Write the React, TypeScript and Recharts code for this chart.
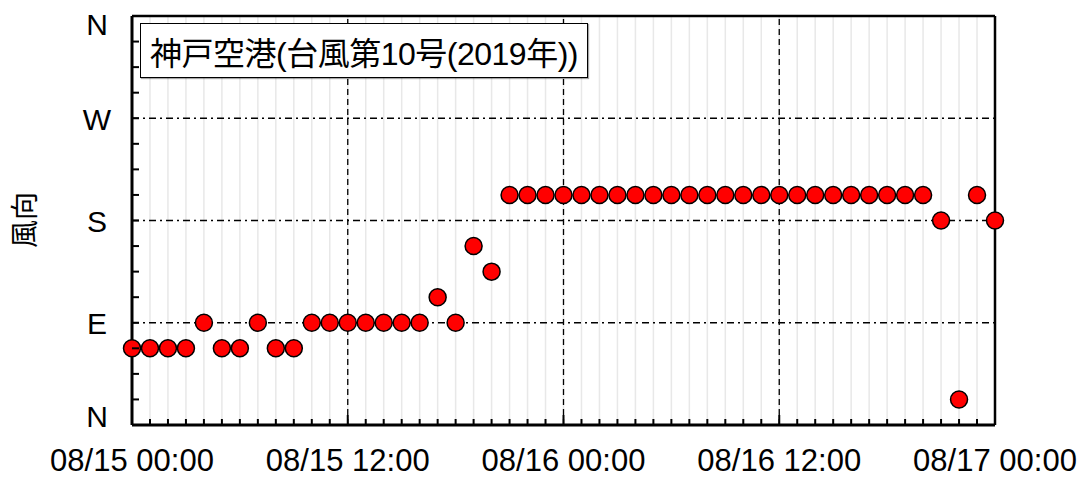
import React from 'react';
import { ScatterChart, Scatter, XAxis, YAxis, ReferenceLine } from 'recharts';

const hours = [
  0, 1, 2, 3, 4, 5, 6, 7, 8, 9, 10, 11, 12, 13, 14, 15, 16, 17, 18, 19, 20, 21, 22, 23, 24,
  25, 26, 27, 28, 29, 30, 31, 32, 33, 34, 35, 36, 37, 38, 39, 40, 41, 42, 43, 44, 45, 46, 47, 48,
];

// wind direction in degrees (16-point compass)
const direction = [
  67.5, 67.5, 67.5, 67.5, 90, 67.5, 67.5, 90, 67.5, 67.5, 90, 90, 90, 90, 90, 90, 90, 112.5, 90,
  157.5, 135,
  202.5, 202.5, 202.5, 202.5, 202.5, 202.5, 202.5, 202.5, 202.5, 202.5, 202.5, 202.5,
  202.5, 202.5, 202.5, 202.5, 202.5, 202.5, 202.5, 202.5, 202.5, 202.5, 202.5, 202.5,
  180, 22.5, 202.5, 180,
];

const majorHours = [0, 12, 24, 36, 48];
const majorHourLabels = ['08/15 00:00', '08/15 12:00', '08/16 00:00', '08/16 12:00', '08/17 00:00'];
const gridHours = [12, 24, 36];

const dirTicks = [0, 22.5, 45, 67.5, 90, 112.5, 135, 157.5, 180, 202.5, 225, 247.5, 270, 292.5, 315, 337.5, 360];
const dirMajor = [0, 90, 180, 270, 360];
const dirLabels = ['N', 'E', 'S', 'W', 'N'];
const gridDirs = [90, 180, 270];

const data = hours.map((h, i) => ({ hour: h, dir: direction[i] }));

const FONT = '"Liberation Sans", Arial, sans-serif';

const XTick = (props: any) => {
  const { x, y, payload } = props;
  const idx = majorHours.indexOf(payload.value);
  const major = idx >= 0;
  return (
    <g>
      <line x1={x} x2={x} y1={y} y2={y - (major ? 10 : 6)} stroke="#000" strokeWidth={2} />
      {major && (
        <text x={x} y={y + 35} textAnchor="middle" dominantBaseline="central" fontSize={31} fontFamily={FONT} fill="#000">
          {majorHourLabels[idx]}
        </text>
      )}
    </g>
  );
};

const YTick = (props: any) => {
  const { x, y, payload } = props;
  const idx = dirMajor.indexOf(payload.value);
  // end labels sit a little inside the axis range
  const nudge = idx === 0 ? -9 : idx === dirMajor.length - 1 ? 8 : 1;
  return (
    <g>
      <line x1={x} x2={x + 7} y1={y} y2={y} stroke="#000" strokeWidth={2} />
      {idx >= 0 && (
        <text x={x - 35} y={y + nudge} textAnchor="middle" dominantBaseline="central" fontSize={30} fontFamily={FONT} fill="#000">
          {dirLabels[idx]}
        </text>
      )}
    </g>
  );
};

const Dot = (props: any) => (
  <circle cx={props.cx} cy={props.cy} r={8.5} fill="#ff0000" stroke="#000" strokeWidth={1.5} />
);

export default function App() {
  return (
    <div style={{ position: 'relative', width: 1079, height: 470, fontFamily: FONT }}>
      <ScatterChart
        width={1079}
        height={470}
        margin={{ top: 8, right: 92, bottom: 0, left: 0 }}
        style={{ overflow: 'visible' }}
      >
        {hours.map((h) => (
          <ReferenceLine key={`h${h}`} x={h} stroke="#e8e8e8" strokeWidth={1.5} />
        ))}
        {gridDirs.map((d) => (
          <ReferenceLine key={`d${d}`} y={d} stroke="#000" strokeWidth={1.3} strokeDasharray="7 4 2 4" />
        ))}
        {gridHours.map((h) => (
          <ReferenceLine key={`g${h}`} x={h} stroke="#000" strokeWidth={1.3} strokeDasharray="6 4" />
        ))}
        <ReferenceLine y={360} stroke="#000" strokeWidth={2.5} />
        <ReferenceLine x={48} stroke="#000" strokeWidth={2.5} />
        <XAxis
          type="number"
          dataKey="hour"
          domain={[0, 48]}
          ticks={hours}
          interval={0}
          height={53}
          tickSize={0}
          tickMargin={0}
          tick={<XTick />}
          axisLine={{ stroke: '#000', strokeWidth: 3 }}
          tickLine={false}
        />
        <YAxis
          type="number"
          dataKey="dir"
          domain={[0, 360]}
          ticks={dirTicks}
          interval={0}
          width={124}
          tickSize={0}
          tickMargin={0}
          tick={<YTick />}
          axisLine={{ stroke: '#000', strokeWidth: 3 }}
          tickLine={false}
        />
        <Scatter data={data} shape={<Dot />} isAnimationActive={false} />
      </ScatterChart>
      <div
        style={{
          position: 'absolute',
          left: -15,
          top: 197,
          width: 60,
          height: 30,
          lineHeight: '30px',
          textAlign: 'center',
          transform: 'rotate(-90deg)',
          fontSize: 28,
          fontFamily: '"Noto Sans CJK JP", sans-serif',
          whiteSpace: 'nowrap',
        }}
      >
        風向
      </div>
      <div
        style={{
          position: 'absolute',
          left: 132,
          top: 15,
          width: 446,
          height: 53,
          border: '1.5px solid #000',
          boxShadow: '1px 1px 1px rgba(0,0,0,0.35)',
          background: '#fff',
          display: 'flex',
          alignItems: 'center',
          justifyContent: 'center',
          fontSize: 32,
          fontFamily: '"Liberation Sans", "Noto Sans CJK JP", sans-serif',
          letterSpacing: -0.5,
          whiteSpace: 'nowrap',
        }}
      >
        神戸空港(台風第10号(2019年))
      </div>
    </div>
  );
}
